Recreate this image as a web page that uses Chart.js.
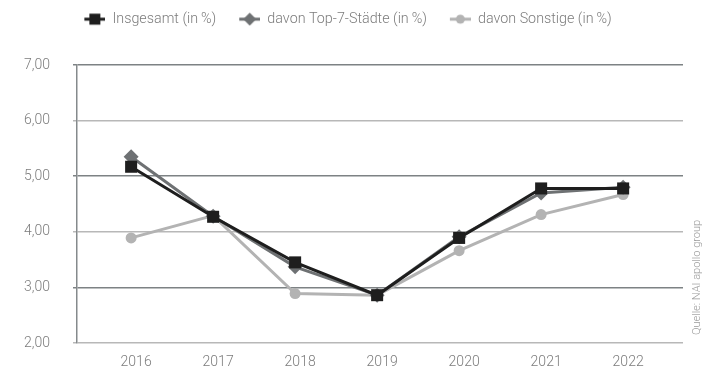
<!DOCTYPE html>
<html>
<head>
<meta charset="utf-8">
<script src="https://cdn.jsdelivr.net/npm/chart.js@4/dist/chart.umd.min.js"></script>
<style>
  html, body { margin: 0; padding: 0; background: #fff; overflow: hidden; }
  #wrap { position: relative; width: 715px; height: 369px; }
  canvas { display: block; }
  #source { position: absolute; left: 691px; top: 200px; height: 135px; width: 12px; line-height: 12px;
    font-family: Roboto, "Liberation Sans", sans-serif; font-weight: 300; font-size: 11px; color: #9a9a9a;
    writing-mode: vertical-rl; transform: rotate(180deg); white-space: nowrap; text-align: left; }
</style>
</head>
<body>
<div id="wrap">
  <canvas id="c" width="715" height="369"></canvas>
  <div id="source">Quelle: NAI apollo group</div>
</div>
<script>
const years = [2016, 2017, 2018, 2019, 2020, 2021, 2022];
const insgesamt = [5.17, 4.27, 3.45, 2.86, 3.89, 4.78, 4.78];
const top7 = [5.35, 4.28, 3.37, 2.86, 3.91, 4.70, 4.80];
const sonstige = [3.89, 4.29, 2.89, 2.86, 3.66, 4.31, 4.67];
const yTicks = [2, 3, 4, 5, 6, 7];
const seriesNames = ['Insgesamt (in\u2009%)', 'davon Top-7-Städte (in\u2009%)', 'davon Sonstige (in\u2009%)'];
const colors = ['#1e1e1e', '#6e7173', '#b3b3b3'];
const styles = ['rect', 'rectRot', 'circle'];
const radii = [8.5, 7.5, 5.5];

function legendIcon(i) {
  const cv = document.createElement('canvas');
  cv.width = 34; cv.height = 14;
  const g = cv.getContext('2d');
  const o = 13;
  g.strokeStyle = colors[i]; g.fillStyle = colors[i]; g.lineWidth = 3;
  g.beginPath(); g.moveTo(o, 7); g.lineTo(o + 21, 7); g.stroke();
  if (i === 0) g.fillRect(o + 5, 1.5, 11, 11);
  else if (i === 1) { g.beginPath(); g.moveTo(o + 10.5, 0.5); g.lineTo(o + 17, 7); g.lineTo(o + 10.5, 13.5); g.lineTo(o + 4, 7); g.closePath(); g.fill(); }
  else { g.beginPath(); g.arc(o + 10.5, 7, 4.5, 0, Math.PI * 2); g.fill(); }
  return cv;
}

const series = [insgesamt, top7, sonstige];
const datasets = series.map((vals, i) => ({
  label: seriesNames[i],
  data: years.map((y, k) => ({ x: y, y: vals[k] })),
  borderColor: colors[i],
  backgroundColor: colors[i],
  borderWidth: 3,
  pointStyle: styles[i],
  pointRadius: radii[i],
  pointHoverRadius: radii[i],
  pointBorderWidth: 0,
  tension: 0
}));

const FONT = "Roboto, 'Liberation Sans', sans-serif";
const target = { top: 65, bottom: 343 };
let xH = 26;
const spacer = {
  position: 'top', weight: -10, fullSize: true, h: 10, options: {},
  top: 0, left: 0, right: 0, bottom: 0, width: 0, height: 0,
  update(maxW, maxH) { this.width = maxW; this.height = this.h; },
  draw() {}, getPadding() { return { left: 0, right: 0, top: 0, bottom: 0 }; }, isHorizontal() { return true; }
};
const spacerPlugin = { id: 'spacer', beforeInit(chart) { Chart.layouts.addBox(chart, spacer); } };

const chart = new Chart(document.getElementById('c'), {
  type: 'line',
  data: { datasets },
  plugins: [spacerPlugin],
  options: {
    responsive: false,
    animation: false,
    layout: { padding: { left: 0, right: 32, top: 2, bottom: 0 } },
    plugins: {
      tooltip: { enabled: false },
      legend: {
        position: 'top',
        labels: {
          usePointStyle: true,
          pointStyleWidth: 34,
          boxHeight: 14,
          padding: 10,
          color: '#7c7c7c',
          font: { family: FONT, size: 14.3, weight: 300 },
          generateLabels: (c) => c.data.datasets.map((ds, i) => ({
            text: ds.label, pointStyle: legendIcon(i), fillStyle: colors[i], strokeStyle: colors[i],
            lineWidth: 0, hidden: false, datasetIndex: i, fontColor: '#7c7c7c'
          }))
        }
      }
    },
    scales: {
      x: {
        type: 'linear',
        min: 2015.34,
        max: 2022.73,
        afterBuildTicks: (s) => { s.ticks = years.map(v => ({ value: v })); },
        afterFit: (s) => { s.height = xH; },
        grid: { display: false, drawTicks: false, tickLength: 0 },
        border: { display: false },
        ticks: {
          callback: (v) => String(v),
          labelOffset: 5,
          padding: 11,
          color: '#7c7c7c',
          font: { family: FONT, size: 14, weight: 300 },
          maxRotation: 0, autoSkip: false
        }
      },
      y: {
        min: 2, max: 7,
        afterBuildTicks: (s) => { s.ticks = yTicks.map(v => ({ value: v })); },
        afterFit: (s) => { s.width = 77; s.paddingTop = 8; s.paddingBottom = 8; },
        grid: {
          color: (ctx) => (ctx.tick && ctx.tick.value % 2 === 1) ? '#7d8284' : '#b8b8b8',
          lineWidth: 1.5,
          tickLength: 4,
          drawTicks: true
        },
        border: { display: true, color: '#858a8c', width: 1.5 },
        ticks: {
          callback: (v) => v.toFixed(2).replace('.', ','),
          padding: 23,
          color: '#7c7c7c',
          font: { family: FONT, size: 14, weight: 300 }
        }
      }
    }
  }
});
for (let k = 0; k < 2; k++) {
  spacer.h = Math.max(0, spacer.h + (target.top - chart.chartArea.top));
  xH = Math.max(0, xH + (chart.chartArea.bottom - target.bottom));
  chart.update();
}
</script>
</body>
</html>
